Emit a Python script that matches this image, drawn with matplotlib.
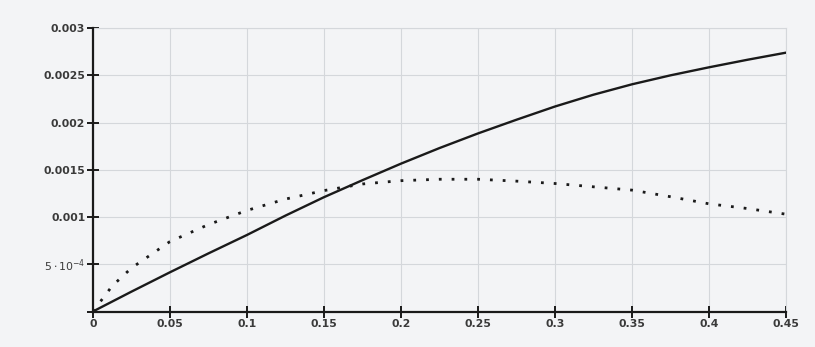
import numpy as np
import matplotlib.pyplot as plt

plt.rcParams['font.family'] = ['DejaVu Sans']
plt.rcParams['mathtext.fontset'] = 'dejavusans'

# --- values ---
x = [0, 0.0125, 0.025, 0.05, 0.075, 0.1, 0.125, 0.15, 0.175, 0.2, 0.225,
     0.25, 0.275, 0.3, 0.325, 0.35, 0.375, 0.4, 0.425, 0.45]
solid = [0, 0.105, 0.21, 0.415, 0.615, 0.81, 1.015, 1.21, 1.39, 1.565, 1.73,
         1.885, 2.03, 2.17, 2.295, 2.405, 2.50, 2.585, 2.665, 2.74]
dotted = [0, 0.27, 0.46, 0.74, 0.92, 1.07, 1.19, 1.28, 1.35, 1.385, 1.40,
          1.40, 1.38, 1.355, 1.32, 1.285, 1.215, 1.14, 1.09, 1.03]
scale = 1e-3

xticks = [0, 0.05, 0.1, 0.15, 0.2, 0.25, 0.3, 0.35, 0.4, 0.45]
xlabels = ['0', '0.05', '0.1', '0.15', '0.2', '0.25', '0.3', '0.35', '0.4', '0.45']
yticks = [0, 0.0005, 0.001, 0.0015, 0.002, 0.0025, 0.003]
ylabels = ['', r'$5\cdot10^{-4}$', '0.001', '0.0015', '0.002', '0.0025', '0.003']

bg = '#f3f4f6'
fig = plt.figure(figsize=(8.15, 3.47), dpi=100, facecolor=bg)
ax = fig.add_axes([0.114, 0.1023, 0.8504, 0.8167], facecolor=bg)

ys = np.array(solid) * scale
yd = np.array(dotted) * scale
ax.plot(x, ys, color='#1a1a1a', lw=1.7, solid_capstyle='round', zorder=3)
ax.plot(x, yd, color='#1a1a1a', lw=2.0, linestyle=(0, (1, 3.6)),
        dash_capstyle='butt', zorder=3)

ax.set_xlim(0, 0.45)
ax.set_ylim(0, 0.003)
ax.set_xticks(xticks)
ax.set_xticklabels(xlabels)
ax.set_yticks(yticks)
ax.set_yticklabels(ylabels)

ax.grid(True, color='#d4d7db', lw=0.8)
for side in ['top', 'right']:
    ax.spines[side].set_color('#d4d7db')
    ax.spines[side].set_linewidth(0.8)
for side in ['left', 'bottom']:
    ax.spines[side].set_color('#1a1a1a')
    ax.spines[side].set_linewidth(1.6)
    ax.spines[side].set_zorder(4)

ax.tick_params(axis='both', direction='inout', length=9, width=1.4,
               color='#1a1a1a', labelsize=7.8, labelcolor='#3a3a3a')
ax.tick_params(axis='x', pad=1)
ax.tick_params(axis='y', pad=1)
for lab in ax.get_xticklabels() + ax.get_yticklabels():
    lab.set_fontweight('bold')

fig.savefig('out.png', dpi=100, facecolor=bg)
